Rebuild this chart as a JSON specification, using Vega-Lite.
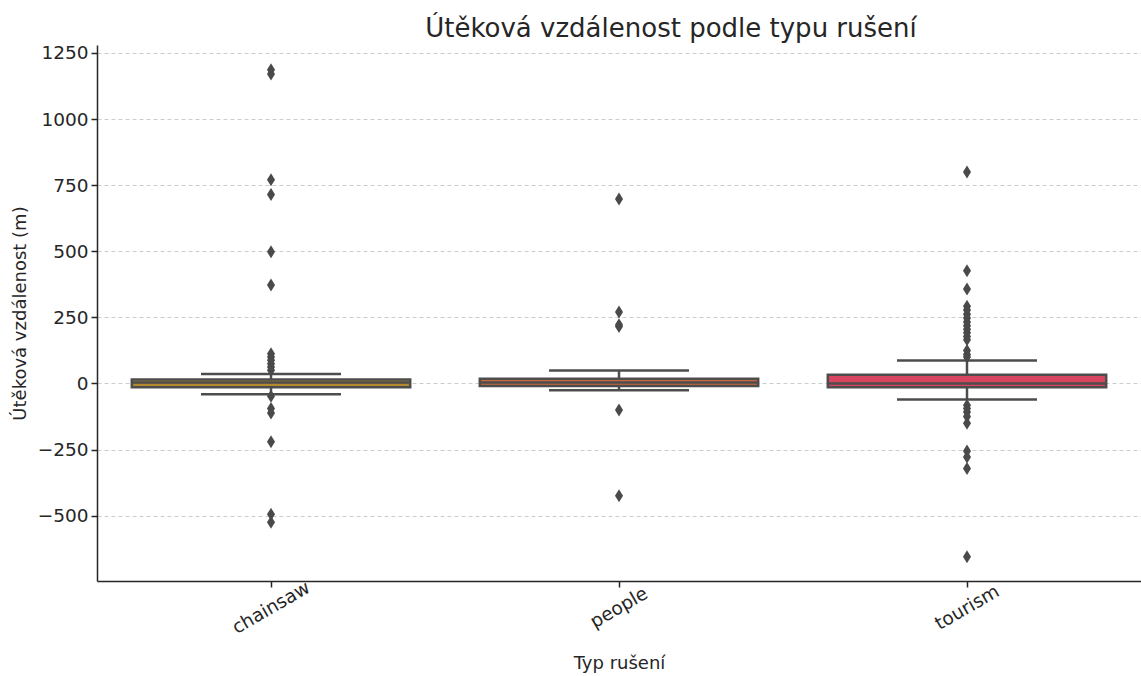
{
  "$schema": "https://vega.github.io/schema/vega-lite/v6.json",
  "width": 1044,
  "height": 536,
  "autosize": {"type": "none"},
  "padding": {"left": 97, "top": 45, "right": 0, "bottom": 95},
  "background": "white",
  "title": {"text": "Útěková vzdálenost podle typu rušení", "font": "DejaVu Sans", "fontSize": 26, "fontWeight": "normal", "color": "#262626", "anchor": "middle", "dx": 52, "offset": 2},
  "datasets": {
    "boxes": [
      {"cat": "chainsaw", "q1": -14, "q3": 15, "med": 4, "lo": -41, "hi": 36},
      {"cat": "people", "q1": -10, "q3": 18, "med": 4, "lo": -26, "hi": 49},
      {"cat": "tourism", "q1": -14, "q3": 33, "med": 0, "lo": -61, "hi": 87}
    ],
    "outliers": [
      {"cat": "chainsaw", "value": 1186}, {"cat": "chainsaw", "value": 1170}, {"cat": "chainsaw", "value": 770}, {"cat": "chainsaw", "value": 715},
      {"cat": "chainsaw", "value": 498}, {"cat": "chainsaw", "value": 372}, {"cat": "chainsaw", "value": 112}, {"cat": "chainsaw", "value": 100},
      {"cat": "chainsaw", "value": 88}, {"cat": "chainsaw", "value": 75}, {"cat": "chainsaw", "value": 62}, {"cat": "chainsaw", "value": 50},
      {"cat": "chainsaw", "value": -48}, {"cat": "chainsaw", "value": -95}, {"cat": "chainsaw", "value": -112}, {"cat": "chainsaw", "value": -220},
      {"cat": "chainsaw", "value": -495}, {"cat": "chainsaw", "value": -525},
      {"cat": "people", "value": 698}, {"cat": "people", "value": 270}, {"cat": "people", "value": 222}, {"cat": "people", "value": 215},
      {"cat": "people", "value": -100}, {"cat": "people", "value": -425},
      {"cat": "tourism", "value": 800}, {"cat": "tourism", "value": 426}, {"cat": "tourism", "value": 357}, {"cat": "tourism", "value": 292},
      {"cat": "tourism", "value": 278}, {"cat": "tourism", "value": 262}, {"cat": "tourism", "value": 248}, {"cat": "tourism", "value": 232},
      {"cat": "tourism", "value": 218}, {"cat": "tourism", "value": 205}, {"cat": "tourism", "value": 192}, {"cat": "tourism", "value": 178},
      {"cat": "tourism", "value": 165}, {"cat": "tourism", "value": 125}, {"cat": "tourism", "value": 110}, {"cat": "tourism", "value": 100},
      {"cat": "tourism", "value": -82}, {"cat": "tourism", "value": -95}, {"cat": "tourism", "value": -108}, {"cat": "tourism", "value": -125},
      {"cat": "tourism", "value": -150}, {"cat": "tourism", "value": -255}, {"cat": "tourism", "value": -278}, {"cat": "tourism", "value": -322},
      {"cat": "tourism", "value": -655}
    ]
  },
  "encoding": {
    "x": {"field": "cat", "type": "nominal", "scale": {"type": "band", "domain": ["chainsaw", "people", "tourism"], "paddingInner": 0, "paddingOuter": 0},
      "axis": {"title": "Typ rušení", "labelAngle": -30, "labelAlign": "center", "labelBaseline": "middle", "labelPadding": 20, "grid": false, "titlePadding": 18}}
  },
  "layer": [
    {
      "data": {"name": "boxes"},
      "mark": {"type": "rule", "stroke": "#4d4d4d", "strokeWidth": 2.5, "opacity": 1},
      "encoding": {
        "y": {"field": "hi", "type": "quantitative", "scale": {"domain": [-747, 1280], "nice": false, "zero": false},
          "axis": {"title": "Útěková vzdálenost (m)", "format": "d", "values": [-500, -250, 0, 250, 500, 750, 1000, 1250], "grid": true, "gridDash": [4, 3], "gridColor": "#cccccc", "gridWidth": 1, "titlePadding": 8}},
        "y2": {"field": "lo"}
      }
    },
    {
      "data": {"name": "boxes"},
      "mark": {"type": "bar", "width": {"band": 0.8}, "stroke": "#4d4d4d", "strokeWidth": 2.5, "opacity": 1},
      "encoding": {
        "y": {"field": "q3", "type": "quantitative"},
        "y2": {"field": "q1"},
        "color": {"field": "cat", "type": "nominal", "scale": {"domain": ["chainsaw", "people", "tourism"], "range": ["#b5892f", "#c86a3d", "#d9455f"]}, "legend": null}
      }
    },
    {
      "data": {"name": "boxes"},
      "mark": {"type": "tick", "size": 279, "thickness": 2.5, "color": "#4d4d4d", "opacity": 1},
      "encoding": {"y": {"field": "med", "type": "quantitative"}}
    },
    {
      "data": {"name": "boxes"},
      "mark": {"type": "tick", "size": 140, "thickness": 2.5, "color": "#4d4d4d", "opacity": 1},
      "encoding": {"y": {"field": "hi", "type": "quantitative"}}
    },
    {
      "data": {"name": "boxes"},
      "mark": {"type": "tick", "size": 140, "thickness": 2.5, "color": "#4d4d4d", "opacity": 1},
      "encoding": {"y": {"field": "lo", "type": "quantitative"}}
    },
    {
      "data": {"name": "outliers"},
      "mark": {"type": "point", "shape": "M0,-1L0.62,0L0,1L-0.62,0Z", "size": 169, "filled": true, "color": "#4a4a4a", "opacity": 1},
      "encoding": {"y": {"field": "value", "type": "quantitative"}}
    }
  ],
  "config": {
    "view": {"stroke": null},
    "axis": {"labelFont": "DejaVu Sans", "labelFontSize": 18.5, "labelColor": "#262626", "titleFont": "DejaVu Sans", "titleFontSize": 18, "titleFontWeight": "normal", "titleColor": "#262626", "domainColor": "#262626", "domainWidth": 1.5, "tickColor": "#262626", "tickWidth": 1.5, "tickSize": 6, "labelPadding": 3}
  }
}
